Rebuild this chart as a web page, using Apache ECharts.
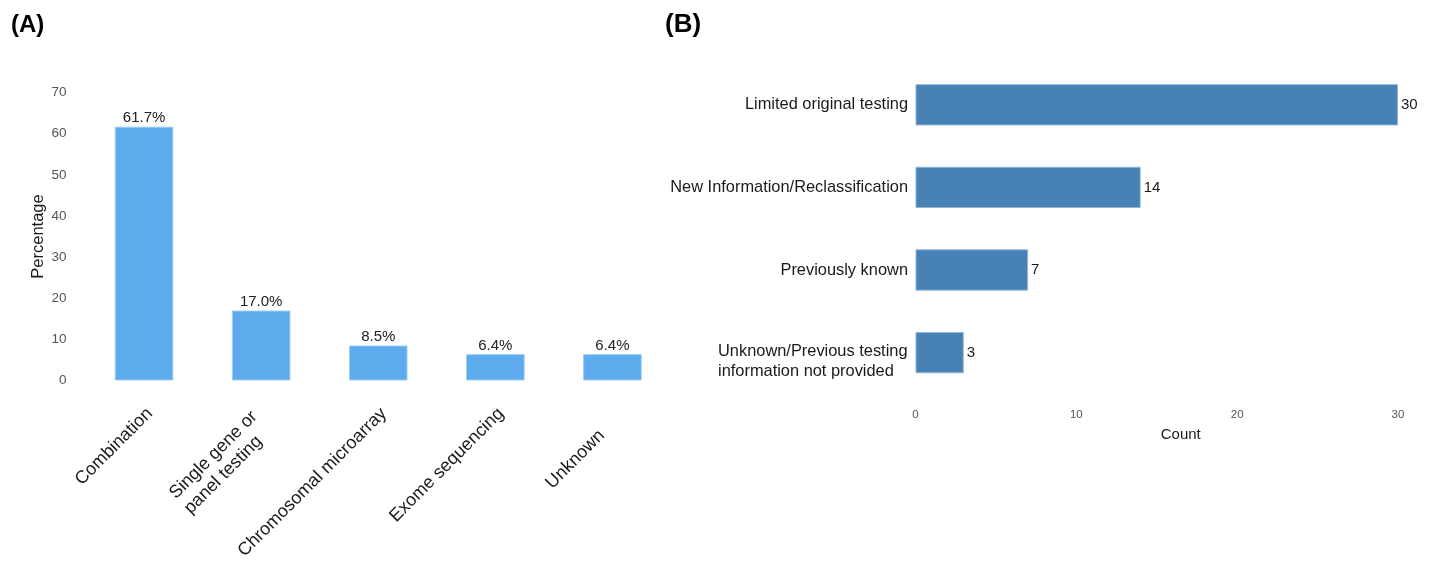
<!DOCTYPE html>
<html>
<head>
<meta charset="utf-8">
<script src="https://cdn.jsdelivr.net/npm/echarts@6/dist/echarts.min.js"></script>
<style>
  html, body { margin: 0; padding: 0; background: #ffffff; }
  #chart { width: 1429px; height: 564px; }
</style>
</head>
<body>
<div id="chart"></div>
<script>
// Panel A: type of original genetic testing (percentage of cases)
const testCategories = ['Combination', 'Single gene or\npanel testing', 'Chromosomal microarray', 'Exome sequencing', 'Unknown'];
const testPercent = [61.7, 17.0, 8.5, 6.4, 6.4];
const percentAxis = { min: 0, max: 70, step: 10 };

// Panel B: reason the diagnosis was not made earlier (counts)
const reasonCategories = ['Limited original testing', 'New Information/Reclassification', 'Previously known', 'Unknown/Previous testing\ninformation not provided'];
const reasonCounts = [30, 14, 7, 3];
const countAxis = { min: 0, max: 30, step: 10 };

const FONT = '"Liberation Sans", Arial, Helvetica, sans-serif';

// multi-line labels keep their lines left-aligned inside a right-anchored block
function blockLabel(text) {
  if (text.indexOf('\n') < 0) return text;
  return text.split('\n').map(l => '{l|' + l + '}').join('\n');
}

// per-label nudges for the slanted test-type labels
const testLabelPadding = {
  'Single gene or\npanel testing': [0, 9, 0, 0],
  'Unknown': [12, 36, 0, 0]
};
const testAxisData = testCategories.map(c =>
  testLabelPadding[c]
    ? { value: c, textStyle: { padding: testLabelPadding[c], verticalAlign: 'top' } }
    : c
);

// the two-line reason label sits with its first line level with the bar
const reasonAxisData = reasonCategories.map(c =>
  c.indexOf('\n') < 0 ? c : { value: c, textStyle: { padding: [18, 0, 0, 0] } }
);

const chart = echarts.init(document.getElementById('chart'), null, { renderer: 'canvas' });

chart.setOption({
  backgroundColor: '#ffffff',
  animation: false,
  textStyle: { fontFamily: FONT },
  title: [
    { text: '(A)', left: 6, top: 8, textStyle: { fontSize: 24, fontWeight: 'bold', color: '#000', fontFamily: FONT } },
    { text: '(B)', left: 660, top: 7, textStyle: { fontSize: 26, fontWeight: 'bold', color: '#000', fontFamily: FONT } }
  ],
  grid: [
    { left: 85.5, top: 92.5, width: 585.5, height: 288, containLabel: false },
    { left: 915.5, top: 63.5, width: 482.5, height: 330.4, containLabel: false }
  ],
  xAxis: [
    {
      type: 'category', gridIndex: 0, data: testAxisData,
      axisLine: { show: false }, axisTick: { show: false },
      axisLabel: {
        rotate: 45, interval: 0, margin: 12, fontSize: 18, color: '#1a1a1a',
        verticalAlign: 'top', padding: [8, 9, 0, 0],
        formatter: v => blockLabel(v),
        rich: {
          l: { fontSize: 18, color: '#1a1a1a', width: 127, align: 'left', lineHeight: 21 }
        }
      }
    },
    {
      type: 'value', gridIndex: 1, min: countAxis.min, max: countAxis.max, interval: countAxis.step,
      axisLine: { show: false }, axisTick: { show: false }, splitLine: { show: false },
      axisLabel: { fontSize: 11.5, color: '#555', margin: 15 },
      name: 'Count', nameLocation: 'middle', nameGap: 33,
      nameTextStyle: { fontSize: 15, color: '#1a1a1a', padding: [0, 0, 0, 48] }
    }
  ],
  yAxis: [
    {
      type: 'value', gridIndex: 0, min: percentAxis.min, max: percentAxis.max, interval: percentAxis.step,
      axisLine: { show: false }, axisTick: { show: false }, splitLine: { show: false },
      axisLabel: { fontSize: 13.5, color: '#555', margin: 19 },
      name: 'Percentage', nameLocation: 'middle', nameGap: 39, nameRotate: 90,
      nameTextStyle: { fontSize: 16.5, color: '#1a1a1a' }
    },
    {
      type: 'category', gridIndex: 1, data: reasonAxisData, inverse: true,
      axisLine: { show: false }, axisTick: { show: false },
      axisLabel: {
        fontSize: 16.4, color: '#1a1a1a', margin: 7.5,
        formatter: v => blockLabel(v),
        rich: {
          l: { fontSize: 16.4, color: '#1a1a1a', width: 190, align: 'left', lineHeight: 20 }
        }
      }
    }
  ],
  series: [
    {
      type: 'bar', xAxisIndex: 0, yAxisIndex: 0, data: testPercent,
      barCategoryGap: '50%',
      itemStyle: { color: '#5DAAEC', borderColor: '#9ccbf3', borderWidth: 1 },
      label: {
        show: true, position: 'top', distance: 1, fontSize: 15, color: '#222',
        formatter: p => p.value.toFixed(1) + '%'
      }
    },
    {
      type: 'bar', xAxisIndex: 1, yAxisIndex: 1, data: reasonCounts,
      barCategoryGap: '50%',
      itemStyle: { color: '#4682B4', borderColor: '#8fb5d8', borderWidth: 1 },
      label: { show: true, position: 'right', distance: 3, fontSize: 15, color: '#1a1a1a' }
    }
  ]
});
</script>
</body>
</html>
